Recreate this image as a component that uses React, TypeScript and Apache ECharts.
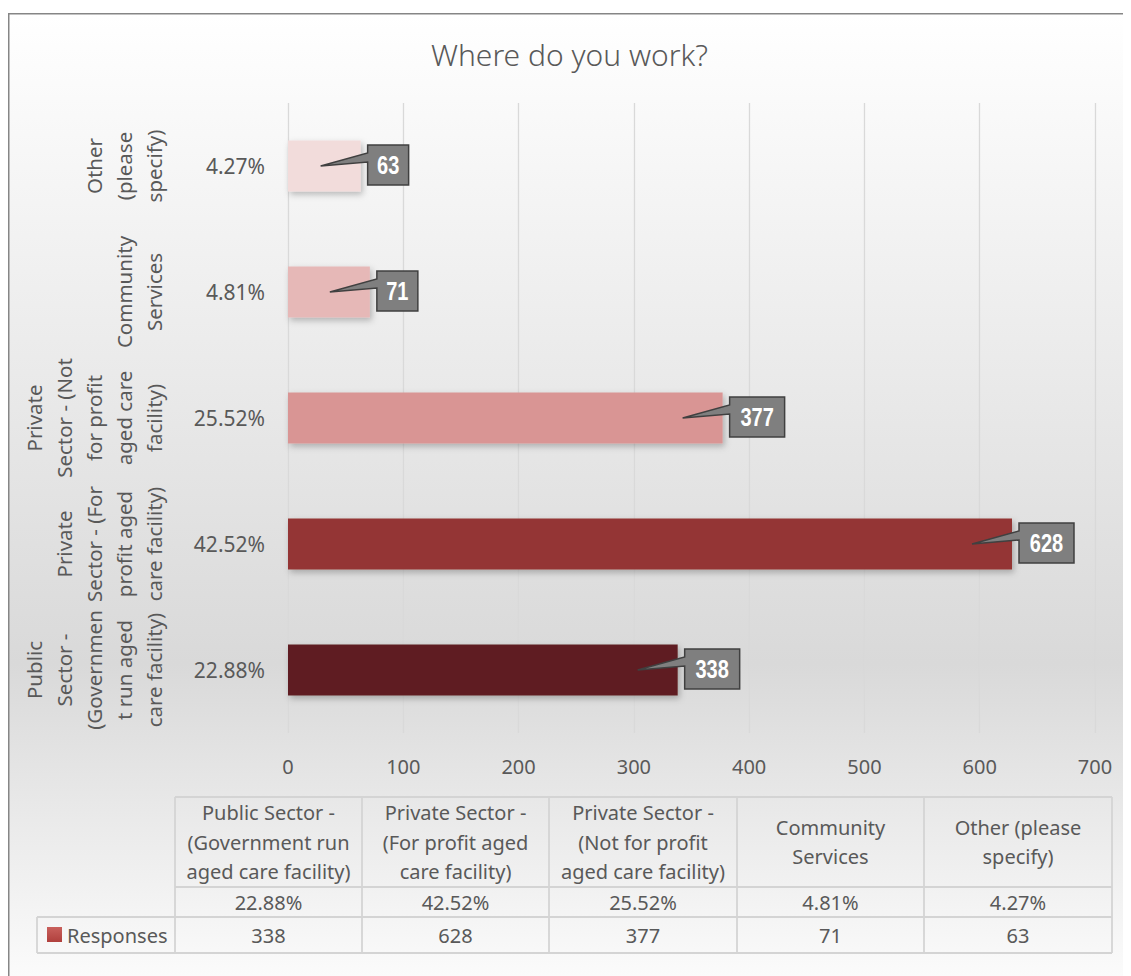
import React, { useEffect, useRef } from "react";
import * as echarts from "echarts";

// ---- data ----
const categories = [
  "Public Sector - (Government run aged care facility)",
  "Private Sector - (For profit aged care facility)",
  "Private Sector - (Not for profit aged care facility)",
  "Community Services",
  "Other (please specify)",
];
const axisCategoryLabels = [
  "Public\nSector -\n(Governmen\nt run aged\ncare facility)",
  "Private\nSector - (For\nprofit aged\ncare facility)",
  "Private\nSector - (Not\nfor profit\naged care\nfacility)",
  "Community\nServices",
  "Other\n(please\nspecify)",
];
const tableHeaderLabels = [
  "Public Sector -\n(Government run\naged care facility)",
  "Private Sector -\n(For profit aged\ncare facility)",
  "Private Sector -\n(Not for profit\naged care facility)",
  "Community\nServices",
  "Other (please\nspecify)",
];
const responses = [338, 628, 377, 71, 63];
const percentages = ["22.88%", "42.52%", "25.52%", "4.81%", "4.27%"];
const seriesName = "Responses";
const barColors = ["#5f1f21", "#943634", "#d99594", "#e6b8b7", "#f2dcdb"];
const xMin = 0;
const xMax = 700;
const xInterval = 100;
const title = "Where do you work?";

const FONT = "'Noto Sans', 'Open Sans', sans-serif";
const NARROW = "'Liberation Sans Narrow', 'Liberation Sans', sans-serif";
const TXT = "#595959";

function buildTable(): any[] {
  const colX = [167, 354, 541, 729, 916, 1104];
  const rowY = [789, 879, 909, 945];
  const headX = 29;
  const lineC = "#d4d4d4";
  const els: any[] = [];
  const ln = (x1: number, y1: number, x2: number, y2: number) =>
    els.push({ type: "line", shape: { x1, y1, x2, y2 }, style: { stroke: lineC, lineWidth: 1.8 } });
  ln(colX[0], rowY[0], colX[5], rowY[0]);
  ln(colX[0], rowY[1], colX[5], rowY[1]);
  ln(headX, rowY[2], colX[5], rowY[2]);
  ln(headX, rowY[3], colX[5], rowY[3]);
  colX.forEach((x) => ln(x, rowY[0], x, rowY[3]));
  ln(headX, rowY[2], headX, rowY[3]);
  tableHeaderLabels.forEach((t, i) => {
    const cx = (colX[i] + colX[i + 1]) / 2;
    els.push({ type: "text", x: cx, y: (rowY[0] + rowY[1]) / 2, style: { text: t, fill: TXT, fontSize: 20, fontFamily: FONT, lineHeight: 29.5, align: "center", verticalAlign: "middle" } });
    els.push({ type: "text", x: cx, y: (rowY[1] + rowY[2]) / 2, style: { text: percentages[i], fill: TXT, fontSize: 20, fontFamily: FONT, align: "center", verticalAlign: "middle" } });
    els.push({ type: "text", x: cx, y: (rowY[2] + rowY[3]) / 2, style: { text: String(responses[i]), fill: TXT, fontSize: 20, fontFamily: FONT, align: "center", verticalAlign: "middle" } });
  });
  els.push({ type: "rect", shape: { x: 39, y: 919, width: 15, height: 15 }, style: { fill: new echarts.graphic.LinearGradient(0, 0, 0, 1, [{ offset: 0, color: "#c9605c" }, { offset: 1, color: "#b0403d" }]) } });
  els.push({ type: "text", x: 59, y: (rowY[2] + rowY[3]) / 2, style: { text: seriesName, fill: TXT, fontSize: 20, fontFamily: FONT, align: "left", verticalAlign: "middle" } });
  return els;
}

export default function App() {
  const ref = useRef<HTMLDivElement>(null);
  useEffect(() => {
    if (!ref.current) return;
    const chart = echarts.init(ref.current, undefined, { renderer: "svg" });
    const option: any = {
      animation: false,
      title: {
        text: title,
        left: "center",
        top: 26,
        textStyle: { color: TXT, fontSize: 30, fontWeight: 300, fontFamily: FONT },
      },
      grid: { left: 280, right: 36, top: 95, height: 630 },
      xAxis: {
        type: "value",
        min: xMin,
        max: xMax,
        interval: xInterval,
        axisLine: { show: false },
        axisTick: { show: false },
        splitLine: { show: true, lineStyle: { color: "#d9d9d9", width: 1.3 } },
        axisLabel: { color: TXT, fontSize: 20, fontFamily: FONT, margin: 23 },
      },
      yAxis: [
        {
          type: "category",
          data: categories,
          position: "left",
          axisLine: { show: false },
          axisTick: { show: false },
          splitLine: { show: false },
          axisLabel: {
            interval: 0,
            margin: 23,
            color: TXT,
            fontSize: 21,
            fontFamily: FONT,
            formatter: (_v: string, i: number) => percentages[i],
          },
        },
        {
          type: "category",
          data: categories,
          position: "left",
          axisLine: { show: false },
          axisTick: { show: false },
          splitLine: { show: false },
          axisLabel: {
            interval: 0,
            rotate: 90,
            margin: 119,
            color: TXT,
            fontSize: 20.5,
            lineHeight: 30,
            align: "center",
            fontFamily: FONT,
            formatter: (_v: string, i: number) => axisCategoryLabels[i],
          },
        },
      ],
      graphic: {
        elements: [
          {
            type: "rect",
            z: -100,
            shape: { x: 0.75, y: 5.75, width: 1140, height: 1000 },
            style: {
              fill: new echarts.graphic.LinearGradient(0, 0, 0, 1, [
                { offset: 0, color: "#ffffff" },
                { offset: 0.65, color: "#d9d9d9" },
                { offset: 1, color: "#ffffff" },
              ]),
              stroke: "#868686",
              lineWidth: 1.5,
            },
          },
          ...buildTable(),
        ],
      },
      series: [
        {
          name: seriesName,
          type: "bar",
          yAxisIndex: 0,
          barWidth: 51,
          data: responses.map((v, i) => ({ value: v, itemStyle: { color: barColors[i] } })),
          itemStyle: { shadowColor: "rgba(0,0,0,0.25)", shadowBlur: 6, shadowOffsetX: 2, shadowOffsetY: 3 },
          z: 2,
        },
        {
          type: "custom",
          yAxisIndex: 0,
          z: 5,
          data: responses.map((v, i) => [v, i]),
          encode: { x: 0, y: 1 },
          renderItem: (params: any, api: any) => {
            const v = api.value(0);
            const idx = api.value(1);
            const p = api.coord([v, idx]);
            const ex = p[0];
            const cy = p[1];
            const label = String(responses[params.dataIndex]);
            const w = 13 + 14 * label.length;
            const h = 40;
            const bx = ex + 7;
            const by = cy - 21;
            const tipX = ex - 40;
            return {
              type: "group",
              children: [
                {
                  type: "polygon",
                  shape: {
                    points: [
                      [tipX, cy],
                      [bx, cy - 13],
                      [bx, by],
                      [bx + w, by],
                      [bx + w, by + h],
                      [bx, by + h],
                      [bx, cy - 4],
                    ],
                  },
                  style: { fill: "#7f7f7f", stroke: "#404040", lineWidth: 1.5 },
                },
                {
                  type: "text",
                  x: bx + w / 2,
                  y: by + h / 2 + 1,
                  scaleX: 0.8,
                  style: {
                    text: label,
                    fill: "#ffffff",
                    fontSize: 25,
                    fontWeight: "bold",
                    fontFamily: NARROW,
                    align: "center",
                    verticalAlign: "middle",
                  },
                },
              ],
            };
          },
        },
      ],
    };
    chart.setOption(option);
    return () => chart.dispose();
  }, []);
  return <div ref={ref} style={{ width: 1123, height: 968 }} />;
}
